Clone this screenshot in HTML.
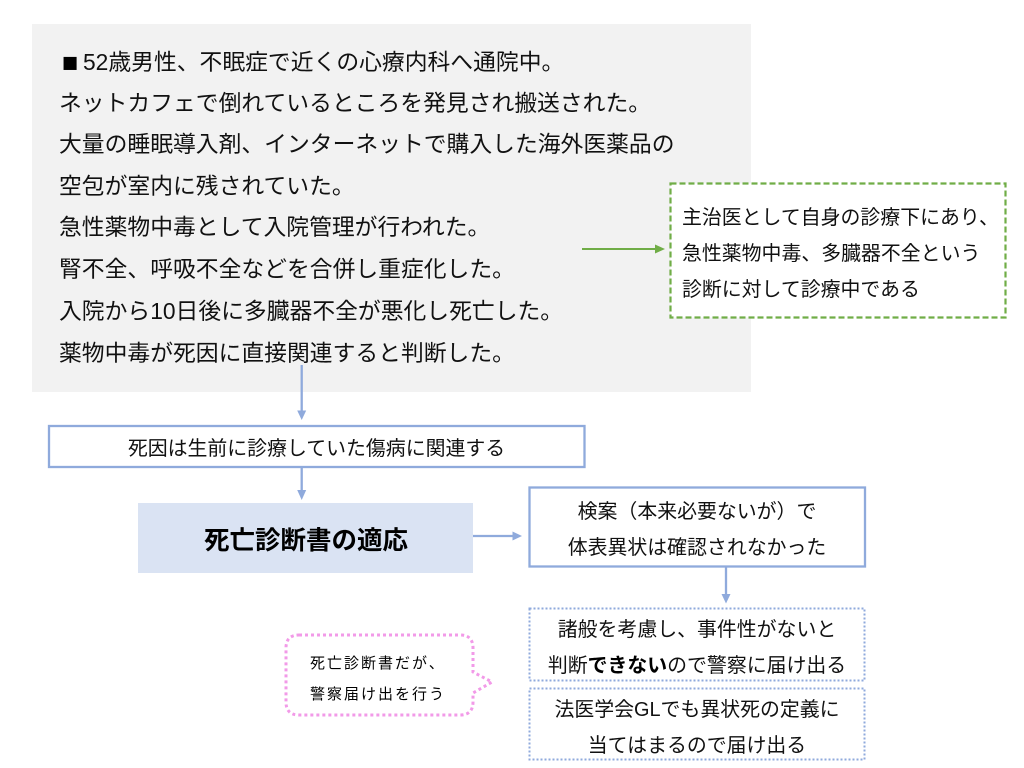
<!DOCTYPE html>
<html lang="ja">
<head>
<meta charset="utf-8">
<title>死亡診断書の適応</title>
<style>
html,body{margin:0;padding:0;background:#fff;width:1024px;height:768px;overflow:hidden}
svg{display:block}
text{font-family:"Liberation Sans","Noto Sans CJK JP",sans-serif;fill:#111}
.m{font-size:22.8px}
.s{font-size:19.9px}
.b{font-size:15px;letter-spacing:2px}
</style>
</head>
<body>
<svg width="1024" height="768" viewBox="0 0 1024 768" xmlns="http://www.w3.org/2000/svg">
<rect width="1024" height="768" fill="#fff"/>
<rect x="32" y="24" width="719" height="368" fill="#f2f2f2"/>

<text x="62" y="71.5" style="font-size:27px;fill:#000">■</text>
<text class="m" x="83" y="70">52歳男性、不眠症で近くの心療内科へ通院中。</text>
<text class="m" x="59" y="111">ネットカフェで倒れているところを発見され搬送された。</text>
<text class="m" x="59" y="152">大量の睡眠導入剤、インターネットで購入した海外医薬品の</text>
<text class="m" x="59" y="194">空包が室内に残されていた。</text>
<text class="m" x="59" y="235">急性薬物中毒として入院管理が行われた。</text>
<text class="m" x="59" y="277">腎不全、呼吸不全などを合併し重症化した。</text>
<text class="m" x="59" y="319">入院から10日後に多臓器不全が悪化し死亡した。</text>
<text class="m" x="59" y="361">薬物中毒が死因に直接関連すると判断した。</text>

<!-- green -->
<line x1="582" y1="249" x2="657" y2="249" stroke="#70ad47" stroke-width="2"/>
<polygon points="655,244.5 665,249 655,253.5" fill="#70ad47"/>
<rect x="670.5" y="183.5" width="335" height="134" fill="#fff" stroke="#70ad47" stroke-width="2.2" stroke-dasharray="6 3"/>
<text class="s" x="682" y="224">主治医として自身の診療下にあり、</text>
<text class="s" x="682" y="260">急性薬物中毒、多臓器不全という</text>
<text class="s" x="682" y="296">診断に対して診療中である</text>

<!-- blue flow -->
<line x1="301.7" y1="365" x2="301.7" y2="412" stroke="#8faadc" stroke-width="2.3"/>
<polygon points="297.2,410.5 306.2,410.5 301.7,420" fill="#8faadc"/>
<rect x="49" y="426" width="535.5" height="41" fill="#fff" stroke="#8faadc" stroke-width="2.3"/>
<text class="s" x="316.5" y="455" text-anchor="middle">死因は生前に診療していた傷病に関連する</text>
<line x1="301.7" y1="467" x2="301.7" y2="493" stroke="#8faadc" stroke-width="2.3"/>
<polygon points="297.2,490 306.2,490 301.7,500" fill="#8faadc"/>

<rect x="138" y="503" width="335" height="70" fill="#dae3f3"/>
<text x="306" y="549" text-anchor="middle" style="font-size:25.5px;font-weight:700;fill:#000">死亡診断書の適応</text>

<line x1="473" y1="536" x2="515" y2="536" stroke="#8faadc" stroke-width="2.3"/>
<polygon points="512.5,531.5 512.5,540.5 522,536" fill="#8faadc"/>

<rect x="529.5" y="487.5" width="335.5" height="79" fill="#fff" stroke="#8faadc" stroke-width="2.3"/>
<text class="s" x="697" y="518" text-anchor="middle">検案（本来必要ないが）で</text>
<text class="s" x="697" y="554" text-anchor="middle">体表異状は確認されなかった</text>

<line x1="726" y1="567" x2="726" y2="597" stroke="#8faadc" stroke-width="2.3"/>
<polygon points="721.5,594 730.5,594 726,603.5" fill="#8faadc"/>

<rect x="529.5" y="608.5" width="335" height="72" fill="#fff" stroke="#8faadc" stroke-width="2" stroke-dasharray="2 2"/>
<text class="s" x="697" y="636" text-anchor="middle">諸般を考慮し、事件性がないと</text>
<text class="s" x="697" y="672" text-anchor="middle">判断<tspan style="font-weight:700;fill:#000">できない</tspan>ので警察に届け出る</text>

<rect x="529.5" y="688.5" width="335" height="71" fill="#fff" stroke="#8faadc" stroke-width="2" stroke-dasharray="2 2"/>
<text class="s" x="697" y="716" text-anchor="middle">法医学会GLでも異状死の定義に</text>
<text class="s" x="697" y="752" text-anchor="middle">当てはまるので届け出る</text>

<!-- bubble -->
<path d="M299,635 H460 Q473,635 473,648 V672 L492,682 L473,693 V702 Q473,715 460,715 H299 Q286,715 286,702 V648 Q286,635 299,635 Z" fill="#fff" stroke="#f29ae8" stroke-width="3" stroke-dasharray="3 3"/>
<text class="b" x="310" y="668" style="fill:#000">死亡診断書だが、</text>
<text class="b" x="310" y="699" style="fill:#000">警察届け出を行う</text>
</svg>
</body>
</html>
